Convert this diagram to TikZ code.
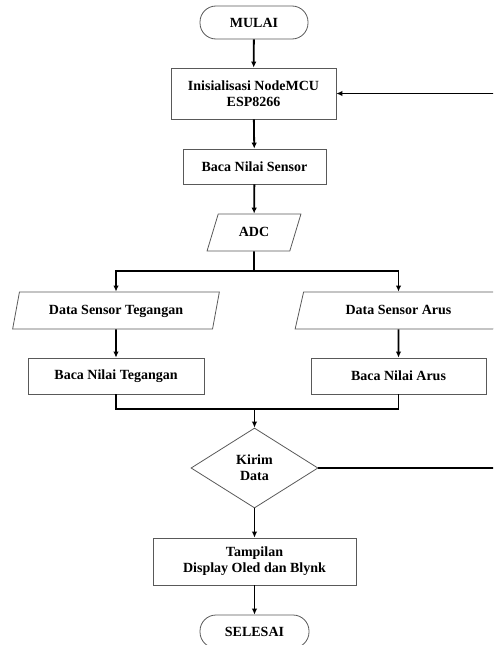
\documentclass[tikz,border=0pt]{standalone}
\usepackage{fontspec}
\setmainfont{Liberation Serif}
\usepackage{tikz}
\usetikzlibrary{shapes.geometric,arrows.meta}
\tikzstyle{terminal} = [rectangle, rounded corners=16pt, draw=black!65,
  line width=0.8pt, minimum width=108pt, minimum height=33pt, inner sep=0pt]
\tikzstyle{proses} = [rectangle, draw=black!65, line width=0.8pt,
  inner sep=0pt, align=center]
\tikzstyle{io} = [trapezium, trapezium left angle=70, trapezium right angle=110,
  trapezium stretches=true, draw=black!65, line width=0.8pt,
  inner sep=0pt, minimum height=37pt, text height=10pt, text depth=3pt]
\tikzstyle{putusan} = [diamond, draw=black!65, line width=0.8pt,
  inner sep=0pt, align=center, minimum width=127pt, minimum height=80pt]
\tikzstyle{panah} = [line width=1.8pt, -{Latex[length=6pt,width=5.5pt]}]
\tikzstyle{garis} = [line width=1.8pt]

\begin{document}
\begin{tikzpicture}[x=1pt, y=-1pt,
  font=\bfseries\fontsize{14}{16}\selectfont]
  \useasboundingbox (0,0) rectangle (493,645);
  \clip (0,0) rectangle (493,645);
  % start
  \node[terminal] (mulai) at (254, 22.5) {MULAI};
  \node[proses, minimum width=165pt, minimum height=51pt] (init)
    at (253.5, 93.5) {Inisialisasi NodeMCU\\ESP8266};
  \node[proses, minimum width=143pt, minimum height=35pt] (baca)
    at (254.5, 166.5) {Baca Nilai Sensor};
  \node[io, minimum width=94pt] (adc) at (254, 232.5) {ADC};
  % cabang
  \coordinate (pisah) at (254, 271);
  \node[io, minimum width=207pt] (dsteg) at (116, 310.5) {Data Sensor Tegangan};
  \node[io, minimum width=207pt] (dsarus) at (398.5, 310.5) {Data Sensor Arus};
  \node[proses, minimum width=176pt, minimum height=36pt] (bteg)
    at (116, 376) {Baca Nilai Tegangan};
  \node[proses, minimum width=175pt, minimum height=36pt] (barus)
    at (398.5, 376) {Baca Nilai Arus};
  \coordinate (gabung) at (254.5, 409);
  % kirim
  \node[putusan] (kirim) at (254.5, 468) {Kirim\\Data};
  \node[proses, minimum width=203pt, minimum height=47pt] (tampil)
    at (254.5, 561.5) {Tampilan\\Display Oled dan Blynk};
  \node[terminal, minimum width=109pt] (selesai) at (254.5, 631.5) {SELESAI};
  % loop
  \coordinate (balik) at (520, 468);
  \draw[panah] (mulai) -- (init);
  \draw[panah] (init) -- (baca);
  \draw[panah] (baca) -- (adc);
  \draw[garis] (adc) -- (pisah);
  \draw[panah] (pisah) -| (dsteg);
  \draw[panah] (pisah) -| (dsarus);
  \draw[panah] (dsteg) -- (bteg);
  \draw[panah] (dsarus) -- (barus);
  \draw[garis] (bteg) |- (gabung);
  \draw[garis] (barus) |- (gabung);
  \draw[panah] (gabung) -- (kirim);
  \draw[panah] (kirim) -- (tampil);
  \draw[panah] (tampil) -- (selesai);
  \draw[panah] (kirim) -- (balik) |- (init);
\end{tikzpicture}
\end{document}
